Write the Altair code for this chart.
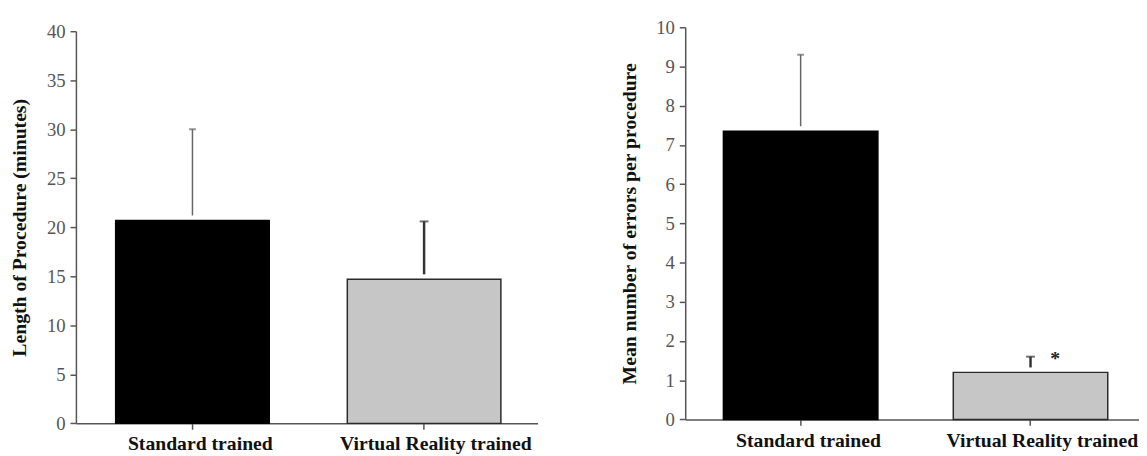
import altair as alt
import pandas as pd

categories = ["Standard trained", "Virtual Reality trained"]

length_mean = [20.7, 14.7]
length_upper = [30.0, 20.6]

errors_mean = [7.35, 1.2]
errors_upper = [9.3, 1.6]
errors_sig = ["", "*"]

length_ticks = [0, 5, 10, 15, 20, 25, 30, 35, 40]
errors_ticks = [0, 1, 2, 3, 4, 5, 6, 7, 8, 9, 10]

df_len = pd.DataFrame({"group": categories, "mean": length_mean, "upper": length_upper, "sig": ["", ""]})
df_err = pd.DataFrame({"group": categories, "mean": errors_mean, "upper": errors_upper, "sig": errors_sig})

SERIF = "Liberation Serif"
AX = "#555555"


def panel(df, title, ticks, width, height, yrange, cap_sizes, whisker_widths, pad_in, pad_out, align):
    xaxis = alt.Axis(title=None, labelAngle=0, labelFont=SERIF, labelFontWeight="bold",
                     labelFontSize=20, labelColor="#111111", labelPadding=5,
                     labelOffset={"condition": {"test": "datum.value === 'Virtual Reality trained'", "value": 12}, "value": 8},
                     labelLimit=0, labelOverlap=False,
                     tickSize=6, tickColor=AX, tickWidth=1.5, domainColor=AX, domainWidth=1.5,
                     grid=False)
    yaxis = alt.Axis(title=title, titleFont=SERIF, titleFontWeight="bold", titleFontSize=20,
                     titleColor="#111111", titlePadding=17, values=ticks, labelFont=SERIF,
                     labelFontSize=19, labelColor=AX, labelPadding=5, tickSize=6, tickColor=AX,
                     tickWidth=1.5, domainColor=AX, domainWidth=1.5, grid=False)
    yscale_kw = dict(domain=[ticks[0], ticks[-1]], nice=False, zero=True)
    if yrange is not None:
        yscale_kw["range"] = yrange
    ys = alt.Scale(**yscale_kw)
    xs = alt.Scale(domain=categories, paddingInner=pad_in, paddingOuter=pad_out, align=align)
    x = alt.X("group:N", sort=categories, scale=xs, axis=xaxis)

    bars = alt.Chart(df).mark_bar(strokeWidth=1.5).encode(
        x=x,
        y=alt.Y("mean:Q", scale=ys, axis=yaxis),
        fill=alt.Fill("group:N", scale=alt.Scale(domain=categories, range=["#000000", "#c6c6c6"]), legend=None),
        stroke=alt.Stroke("group:N", scale=alt.Scale(domain=categories, range=["#000000", "#2a2a2a"]), legend=None),
    )
    whisk = alt.Chart(df).mark_rule(y2Offset=-5).encode(
        x=x,
        y=alt.Y("upper:Q", scale=ys, axis=yaxis),
        y2="mean:Q",
        color=alt.Color("group:N", scale=alt.Scale(domain=categories, range=["#666666", "#333333"]), legend=None),
        strokeWidth=alt.StrokeWidth("group:N", scale=alt.Scale(domain=categories, range=whisker_widths), legend=None),
    )
    caps = alt.Chart(df).mark_tick(thickness=2).encode(
        x=x,
        y=alt.Y("upper:Q", scale=ys, axis=yaxis),
        color=alt.Color("group:N", scale=alt.Scale(domain=categories, range=["#555555", "#333333"]), legend=None),
        size=alt.Size("group:N", scale=alt.Scale(domain=categories, range=cap_sizes), legend=None),
    )
    star = alt.Chart(df).transform_filter("datum.sig != ''").mark_text(
        dx=25, dy=2, baseline="middle", font=SERIF, fontWeight="bold", fontSize=20, color="#222222"
    ).encode(
        x=x,
        y=alt.Y("upper:Q", scale=ys, axis=yaxis),
        text="sig:N",
    )
    return alt.layer(bars, whisk, caps, star).properties(width=width, height=height)


left = panel(df_len, "Length of Procedure (minutes)", length_ticks, 469, 402.4, [402.4, 4.0],
             [7, 9], [1.5, 2.5], 0.337, 0.165, 0.52)
right = panel(df_err, "Mean number of errors per procedure", errors_ticks, 461, 398.4, None,
              [11, 9], [1.5, 3], 0.328, 0.151, 0.55)

chart = alt.hconcat(left, right, spacing=83).properties(
    padding={"left": 2, "top": 7, "right": 0, "bottom": 0}
).configure_view(stroke=None).resolve_scale(fill="independent")

chart.save("out.html", embed_options={"renderer": "svg", "actions": False})
